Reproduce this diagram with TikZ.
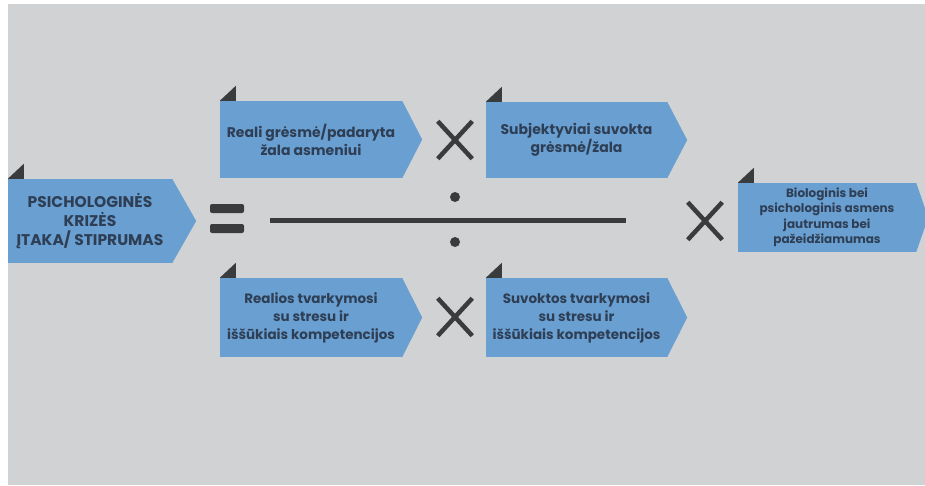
\documentclass[tikz,border=0pt]{standalone}
\usepackage{fontspec}
\setmainfont{Poppins}
\usetikzlibrary{shapes.misc}

\definecolor{bggray}{HTML}{D1D2D4}
\definecolor{boxblue}{HTML}{6A9FD1}
\definecolor{boxtext}{HTML}{2E3F55}
\definecolor{markdark}{HTML}{3A3B3D}

\begin{document}
\begin{tikzpicture}[x=1pt,y=-1pt,
  box/.style={fill=boxblue, inner sep=0pt, text=boxtext, align=center,
    font=\bfseries},
  times/.style={cross out, draw=markdark, line width=4.5pt,
    minimum width=30pt, minimum height=33pt, inner sep=0pt},
  bar/.style={fill=markdark, rounded corners=2pt, minimum width=34pt,
    minimum height=9pt, inner sep=0pt},
  dot/.style={circle, fill=markdark, minimum size=10pt, inner sep=0pt}]
  \useasboundingbox (0,0) rectangle (925,485);
  \fill[white] (0,0) rectangle (925,485);
  \fill[bggray] (8,4) rectangle (925,485);

  % blocks
  \node[box, minimum width=164pt, minimum height=84pt,
    font=\bfseries\fontsize{15.5}{19}\selectfont] (crisis) at (90,221)
    {PSICHOLOGINĖS\\KRIZĖS\\ĮTAKA/ STIPRUMAS};
  \node[box, minimum width=182pt, minimum height=77pt,
    font=\bfseries\fontsize{14}{18}\selectfont] (real) at (311,139.5)
    {Reali grėsmė/padaryta\\žala asmeniui};
  \node[box, minimum width=181pt, minimum height=76pt,
    font=\bfseries\fontsize{14}{18}\selectfont] (subj) at (576.5,140)
    {Subjektyviai suvokta\\grėsmė/žala};
  \node[box, minimum width=182pt, minimum height=79pt,
    font=\bfseries\fontsize{13.5}{18}\selectfont] (cope) at (311,317.5)
    {Realios tvarkymosi\\su stresu ir\\iššūkiais kompetencijos};
  \node[box, minimum width=181pt, minimum height=79pt,
    font=\bfseries\fontsize{13.5}{18}\selectfont] (copesubj) at (576.5,317.5)
    {Suvoktos tvarkymosi\\su stresu ir\\iššūkiais kompetencijos};
  \node[box, minimum width=178pt, minimum height=69pt,
    font=\bfseries\fontsize{12}{15.5}\selectfont] (bio) at (827,217.5)
    {Biologinis bei\\psichologinis asmens\\jautrumas bei\\pažeidžiamumas};

  % arrow tips and corner tabs
  \foreach \n/\t in {crisis/24, real/20, subj/20, cope/20, copesubj/20, bio/12} {
    \fill[boxblue] (\n.north east) -- ([xshift=\t pt]\n.east)
      -- (\n.south east) -- cycle;
    \fill[markdark] (\n.north west) -- ++(16,0) -- ++(0,-15) -- cycle;
  }

  % operators
  \node[bar] (eqtop) at (227,208.5) {};
  \node[bar] (eqbot) at (227,228.5) {};
  \coordinate (fracl) at (270,220);
  \coordinate (fracr) at (626,220);
  \draw[markdark, line width=5pt] (fracl) -- (fracr);
  \node[dot] (divtop) at (455,197) {};
  \node[dot] (divbot) at (455,242) {};
  \node[times] (timestop) at (455,140) {};
  \node[times] (timesbot) at (455,317) {};
  \node[times] (timesbio) at (705,221) {};
\end{tikzpicture}
\end{document}
